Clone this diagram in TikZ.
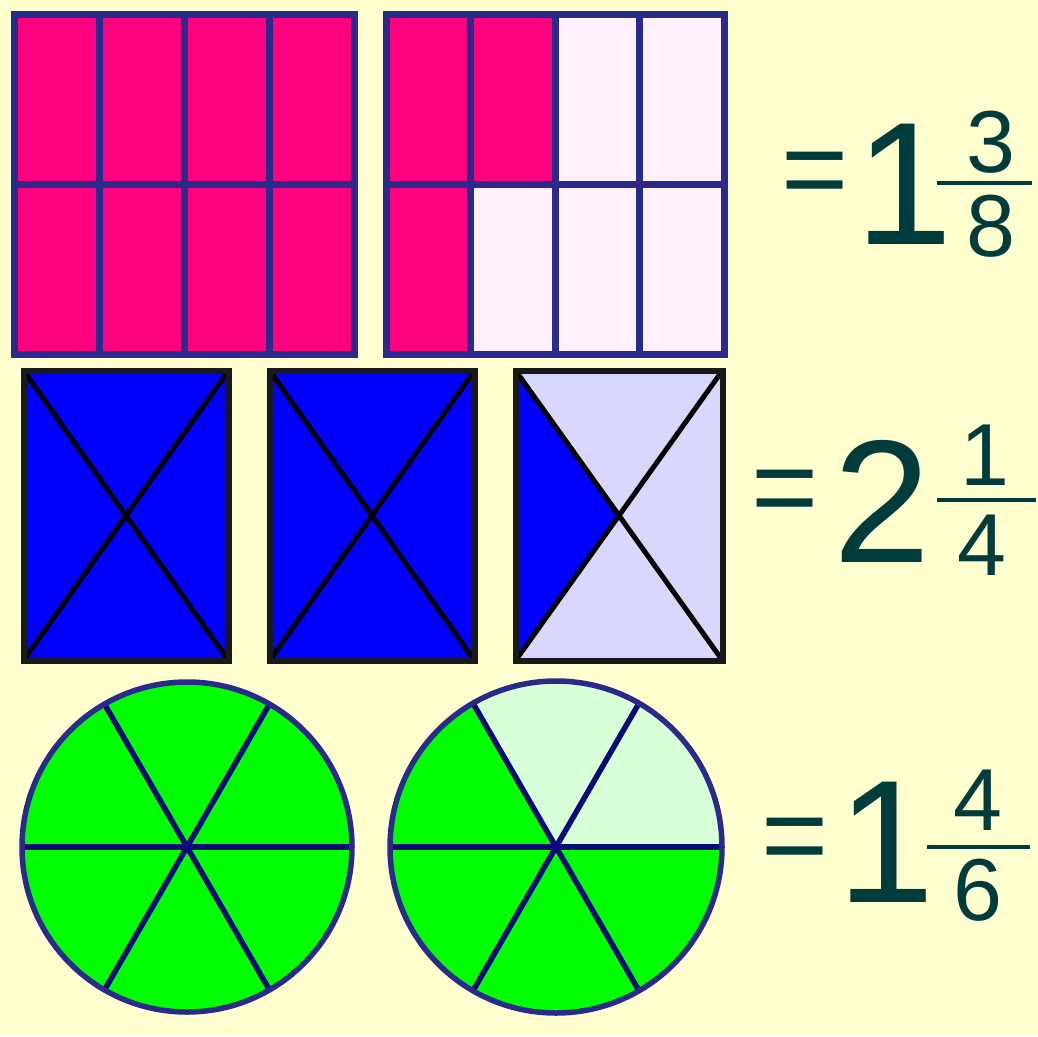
\documentclass[tikz,border=0pt]{standalone}
\usepackage{fontspec}
\setmainfont{Liberation Sans}
\usepackage{xcolor}
\usepackage{tikz}

\definecolor{pagebg}{RGB}{255,255,208}
\definecolor{gridnavy}{RGB}{42,42,140}
\definecolor{spokenavy}{RGB}{10,10,120}
\definecolor{hotpink}{RGB}{255,0,128}
\definecolor{palepink}{RGB}{255,240,250}
\definecolor{fullblue}{RGB}{0,0,255}
\definecolor{paleblue}{RGB}{216,216,255}
\definecolor{fullgreen}{RGB}{0,255,0}
\definecolor{palegreen}{RGB}{216,255,216}
\definecolor{numteal}{RGB}{0,60,60}

\begin{document}
\begin{tikzpicture}[
    x=1pt, y=-1pt,
    gridline/.style={draw=gridnavy, line width=7pt},
    boxline/.style={draw=black!90, line width=6pt},
    crossline/.style={draw=black, line width=5pt},
    rim/.style={draw=gridnavy, line width=5.5pt},
    spoke/.style={draw=spokenavy, line width=5.5pt},
    fracbar/.style={draw=numteal, line width=4.5pt},
    eqsign/.style={text=numteal, inner sep=0pt, outer sep=0pt, font=\fontsize{115}{115}\selectfont},
    wholenum/.style={text=numteal, inner sep=0pt, outer sep=0pt, font=\fontsize{175}{175}\selectfont},
    fracnum/.style={text=numteal, inner sep=0pt, outer sep=0pt, font=\fontsize{88}{88}\selectfont}
]
% background and page size
\fill[pagebg] (0,0) rectangle (1038,1036);
\useasboundingbox (0,0) rectangle (1038,1036);

% Row 1: eighths
\fill[hotpink] (14,14) rectangle (354,354);
\foreach \x in {99,184,269} \draw[gridline] (\x,14) -- (\x,354);
\draw[gridline] (14,184) -- (354,184);
\draw[gridline] (14,14) rectangle (354,354);

\fill[palepink] (386,14) rectangle (724,354);
\fill[hotpink] (386,14) rectangle (555,184);
\fill[hotpink] (386,184) rectangle (470.5,354);
\foreach \x in {470.5,555,639.5} \draw[gridline] (\x,14) -- (\x,354);
\draw[gridline] (386,184) -- (724,184);
\draw[gridline] (386,14) rectangle (724,354);

\node[eqsign] (eqA) at (815,180) {=};
\node[wholenum] (wholeA) at (904,184.5) {1};
\node[fracnum] (numA) at (991,142) {3};
\draw[fracbar] (937,183) -- (1032,183);
\node[fracnum] (denA) at (991,226) {8};

% Row 2: quarters
\foreach \l/\r in {23.5/228.5, 269.5/474.5} {
  \fill[fullblue] (\l,370.5) rectangle (\r,660.5);
  \draw[crossline] (\l,370.5) -- (\r,660.5) (\l,660.5) -- (\r,370.5);
  \draw[boxline] (\l,370.5) rectangle (\r,660.5);
}
\fill[paleblue] (515.5,370.5) rectangle (722.5,660.5);
\fill[fullblue] (515.5,370.5) -- (619,515.5) -- (515.5,660.5) -- cycle;
\draw[crossline] (515.5,370.5) -- (722.5,660.5) (515.5,660.5) -- (722.5,370.5);
\draw[boxline] (515.5,370.5) rectangle (722.5,660.5);

\node[eqsign] (eqB) at (785.5,498.5) {=};
\node[wholenum] (wholeB) at (882.5,501.5) {2};
\node[fracnum] (numB) at (985,455) {1};
\draw[fracbar] (937,500) -- (1036,500);
\node[fracnum] (denB) at (982,545) {4};

% Row 3: sixths
\coordinate (wheelA) at (187,847);
\coordinate (wheelB) at (556,847);
\fill[fullgreen] (wheelA) circle[radius=165];
\begin{scope}[shift={(wheelA)}]
  \foreach \a in {0,60,120} \draw[spoke] (\a:165) -- (\a+180:165);
\end{scope}
\draw[rim] (wheelA) circle[radius=165];

\fill[fullgreen] (wheelB) circle[radius=166];
\begin{scope}[shift={(wheelB)}]
  \fill[palegreen] (0,0) -- (-120:166) arc[start angle=-120, end angle=0, radius=166] -- cycle;
  \foreach \a in {0,60,120} \draw[spoke] (\a:166) -- (\a+180:166);
\end{scope}
\draw[rim] (wheelB) circle[radius=166];

\node[eqsign] (eqC) at (795.5,846) {=};
\node[wholenum] (wholeC) at (886.5,842.5) {1};
\node[fracnum] (numC) at (978,800) {4};
\draw[fracbar] (927,847) -- (1030,847);
\node[fracnum] (denC) at (978,890) {6};
\end{tikzpicture}
\end{document}
